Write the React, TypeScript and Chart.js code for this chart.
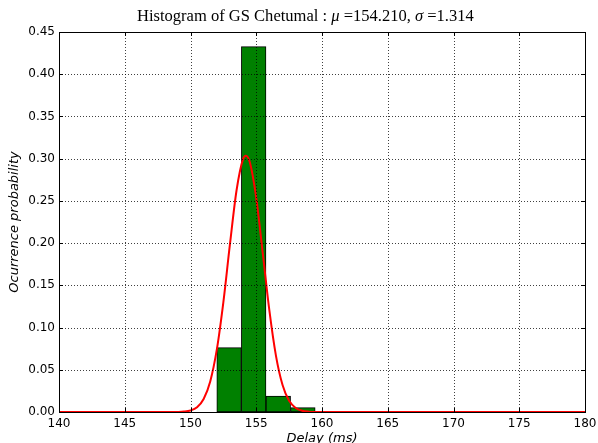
import React, { useEffect, useRef } from "react";
import { Chart, registerables } from "chart.js";

Chart.register(...registerables);

// Histogram bins (centers, in ms) and occurrence probabilities
const binCenters = [152.935, 154.805, 156.675, 158.545];
const binHeights = [0.0762, 0.4326, 0.0189, 0.0051];

// Fitted normal curve
const curveX = [140, 148.5, 149, 149.5, 150, 150.5, 151, 151.5, 152, 152.5, 153, 153.5, 154, 154.21, 154.5, 155, 155.5, 156, 156.5, 157, 157.5, 158, 158.5, 159, 159.5, 160, 180];
const curveY = [0, 0, 0.0001, 0.0005, 0.0018, 0.0057, 0.0154, 0.0362, 0.0738, 0.1302, 0.1987, 0.2623, 0.2997, 0.3036, 0.2963, 0.2534, 0.1875, 0.12, 0.0665, 0.0319, 0.0132, 0.0047, 0.0015, 0.0004, 0.0001, 0, 0];

const xTicks = [140, 145, 150, 155, 160, 165, 170, 175, 180];
const yTicks = [0, 0.05, 0.1, 0.15, 0.2, 0.25, 0.3, 0.35, 0.4, 0.45];

const titleParts: { text: string; italic: boolean }[] = [
  { text: "Histogram of GS Chetumal", italic: false },
  { text: " : ", italic: false },
  { text: "μ", italic: true },
  { text: " =154.210, ", italic: false },
  { text: "σ", italic: true },
  { text: " =1.314", italic: false },
];
const xLabel = "Delay (ms)";
const yLabel = "Ocurrence probability";

const decorPlugin = {
  id: "decor",
  afterDatasetsDraw(chart: any) {
    const { ctx, chartArea: a, scales } = chart;
    const xs = scales.x;
    const ys = scales.y;
    ctx.save();
    // dotted grid
    ctx.strokeStyle = "rgba(0,0,0,0.75)";
    ctx.lineWidth = 1;
    ctx.setLineDash([1, 2]);
    xTicks.forEach((v) => {
      const px = Math.round(xs.getPixelForValue(v)) + 0.5;
      ctx.beginPath();
      ctx.moveTo(px, a.top);
      ctx.lineTo(px, a.bottom);
      ctx.stroke();
    });
    yTicks.forEach((v) => {
      const py = Math.round(ys.getPixelForValue(v)) + 0.5;
      ctx.beginPath();
      ctx.moveTo(a.left, py);
      ctx.lineTo(a.right, py);
      ctx.stroke();
    });
    ctx.setLineDash([]);
    // inward ticks
    ctx.strokeStyle = "#000";
    const tl = 4;
    xTicks.forEach((v) => {
      const px = Math.round(xs.getPixelForValue(v)) + 0.5;
      ctx.beginPath();
      ctx.moveTo(px, a.bottom);
      ctx.lineTo(px, a.bottom - tl);
      ctx.moveTo(px, a.top);
      ctx.lineTo(px, a.top + tl);
      ctx.stroke();
    });
    yTicks.forEach((v) => {
      const py = Math.round(ys.getPixelForValue(v)) + 0.5;
      ctx.beginPath();
      ctx.moveTo(a.left, py);
      ctx.lineTo(a.left + tl, py);
      ctx.moveTo(a.right, py);
      ctx.lineTo(a.right - tl, py);
      ctx.stroke();
    });
    // frame
    ctx.strokeRect(Math.round(a.left) + 0.5, Math.round(a.top) + 0.5, Math.round(a.right - a.left), Math.round(a.bottom - a.top));
    ctx.restore();
  },
  afterDraw(chart: any) {
    const { ctx } = chart;
    ctx.save();
    ctx.fillStyle = "#000";
    ctx.textBaseline = "alphabetic";
    ctx.textAlign = "left";
    const fam = "'Liberation Serif', 'DejaVu Serif', serif";
    const base = 17;
    const fontFor = (it: boolean, s: number) => `${it ? "italic " : ""}${s}px ${fam}`;
    let w = 0;
    titleParts.forEach((p) => {
      ctx.font = fontFor(p.italic, base);
      w += ctx.measureText(p.text).width;
    });
    const size = (base * 337) / w;
    let x = 137;
    titleParts.forEach((p) => {
      ctx.font = fontFor(p.italic, size);
      ctx.fillText(p.text, x, 21);
      x += ctx.measureText(p.text).width;
    });
    ctx.restore();
  },
};

export default function App() {
  const ref = useRef<HTMLCanvasElement | null>(null);
  useEffect(() => {
    if (!ref.current) return;
    const tickFont = { family: "'DejaVu Sans', sans-serif", size: 12 };
    const labelFont = { family: "'DejaVu Sans', sans-serif", size: 13, style: "italic" as const };
    const chart = new Chart(ref.current, {
      type: "bar",
      data: {
        datasets: [
          {
            type: "line" as const,
            data: curveX.map((x, i) => ({ x, y: curveY[i] })),
            borderColor: "#ff0000",
            borderWidth: 2,
            pointRadius: 0,
            fill: false,
            cubicInterpolationMode: "monotone" as const,
          },
          {
            type: "bar" as const,
            data: binCenters.map((x, i) => ({ x, y: binHeights[i] })),
            backgroundColor: "#008000",
            borderColor: "#000000",
            borderWidth: 1,
            borderSkipped: false,
            barPercentage: 1,
            categoryPercentage: 1,
          },
        ] as any,
      },
      options: {
        responsive: false,
        animation: false,
        layout: { padding: { top: 32, right: 13, left: 0, bottom: 0 } },
        plugins: { legend: { display: false }, tooltip: { enabled: false }, title: { display: false } },
        scales: {
          x: {
            type: "linear",
            min: 140,
            max: 180,
            offset: false,
            grid: { display: false, drawTicks: false },
            border: { display: false },
            afterBuildTicks: (s: any) => {
              s.ticks = xTicks.map((v) => ({ value: v }));
            },
            ticks: {
              color: "#000",
              font: tickFont,
              padding: 5,
              maxRotation: 0,
              autoSkip: false,
              callback: (v: any) => String(v),
            },
            title: { display: true, text: xLabel, color: "#000", font: labelFont, padding: { top: 0, bottom: -3 } },
            afterFit: (s: any) => {
              s.height = 31;
              s.paddingLeft = 0;
              s.paddingRight = 0;
            },
          },
          y: {
            type: "linear",
            min: 0,
            max: 0.45,
            grid: { display: false, drawTicks: false },
            border: { display: false },
            afterBuildTicks: (s: any) => {
              s.ticks = yTicks.map((v) => ({ value: v }));
            },
            ticks: {
              color: "#000",
              font: tickFont,
              padding: 4,
              autoSkip: false,
              callback: (v: any) => Number(v).toFixed(2),
            },
            title: { display: true, text: yLabel, color: "#000", font: labelFont, padding: { top: 7, bottom: 0 } },
            afterFit: (s: any) => {
              s.width = 59;
              s.paddingTop = 0;
              s.paddingBottom = 0;
            },
          },
        },
      } as any,
      plugins: [decorPlugin],
    });
    return () => chart.destroy();
  }, []);
  return (
    <div style={{ position: "fixed", left: 0, top: 0, width: 598, height: 443, background: "#fff" }}>
      <canvas ref={ref} width={598} height={443} style={{ display: "block" }} />
    </div>
  );
}
